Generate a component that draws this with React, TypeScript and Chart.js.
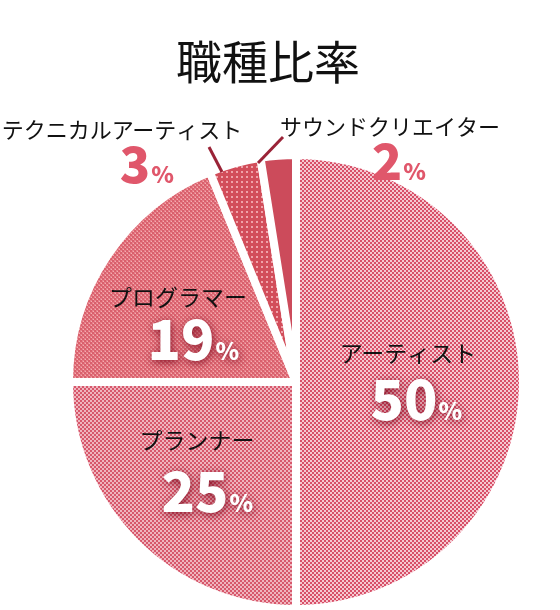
import React, { useEffect, useRef } from "react";
import { Chart, registerables } from "chart.js";

Chart.register(...registerables);

const TITLE = "職種比率";
const categories = ["アーティスト", "プランナー", "プログラマー", "テクニカルアーティスト", "サウンドクリエイター"];
const shares = [50, 25, 18.8, 3.7, 2.5];
const percentLabels = ["50", "25", "19", "3", "2"];

const JP = '"Noto Sans CJK JP", "Noto Sans", sans-serif';

function makeTile(size: number, paint: (g: CanvasRenderingContext2D) => void) {
  const c = document.createElement("canvas");
  c.width = size;
  c.height = size;
  const g = c.getContext("2d") as CanvasRenderingContext2D;
  paint(g);
  return c;
}

function makePatterns(ctx: CanvasRenderingContext2D) {
  const checker = (a: string, b: string) =>
    makeTile(4, (g) => {
      g.fillStyle = b;
      g.fillRect(0, 0, 4, 4);
      g.fillStyle = a;
      g.fillRect(0, 0, 2, 2);
      g.fillRect(2, 2, 2, 2);
    });
  const weave = makeTile(4, (g) => {
    g.fillStyle = "#e7808a";
    g.fillRect(0, 0, 4, 4);
    g.fillStyle = "#d9606c";
    g.fillRect(0, 0, 2, 2);
    g.fillRect(2, 2, 2, 2);
    g.fillStyle = "#f3aeb0";
    g.fillRect(1, 3, 1, 1);
    g.fillRect(3, 1, 1, 1);
  });
  const dots = makeTile(5, (g) => {
    g.fillStyle = "#d24d5a";
    g.fillRect(0, 0, 5, 5);
    g.fillStyle = "#f0a2a9";
    g.fillRect(1, 1, 2, 2);
  });
  return [
    ctx.createPattern(checker("#d84f68", "#f5c9d1"), "repeat"),
    ctx.createPattern(checker("#d7576b", "#efb5be"), "repeat"),
    ctx.createPattern(weave, "repeat"),
    ctx.createPattern(dots, "repeat"),
    "#cc4b5b",
  ];
}

// label placement, offsets from the pie centre
const inside = [
  { name: [112, -29], num: [108, 38] },
  { name: [-99, 58], num: [-101, 130] },
  { name: [-118, -85], num: [-115, -22] },
];
const outside = [
  { name: [-174, -252], num: [-161, -199], line: [[-74, -210], [-87, -235]] },
  { name: [94, -255], num: [91, -202], line: [[-38, -219], [-13, -245]] },
];

function drawValue(
  ctx: CanvasRenderingContext2D,
  x: number,
  baseline: number,
  text: string,
  big: number,
  small: number
) {
  ctx.textAlign = "center";
  ctx.textBaseline = "alphabetic";
  ctx.font = `900 ${big}px ${JP}`;
  const w = ctx.measureText(text).width;
  ctx.fillText(text, x, baseline);
  ctx.textAlign = "left";
  ctx.font = `900 ${small}px ${JP}`;
  ctx.fillText("%", x + w / 2 + 1, baseline);
}

const labelPlugin = {
  id: "jobLabels",
  afterDatasetsDraw(chart: any) {
    const ctx: CanvasRenderingContext2D = chart.ctx;
    const arcs = chart.getDatasetMeta(0).data;
    if (!arcs.length) return;
    const cx = arcs[0].x;
    const cy = arcs[0].y;
    ctx.save();

    // title
    ctx.fillStyle = "#111";
    ctx.font = `400 46px ${JP}`;
    ctx.textAlign = "center";
    ctx.textBaseline = "middle";
    ctx.fillText(TITLE, 268, 62);

    // inside labels
    inside.forEach((p, i) => {
      ctx.shadowColor = "transparent";
      ctx.fillStyle = "#111";
      ctx.font = `23px ${JP}`;
      ctx.textAlign = "center";
      ctx.textBaseline = "middle";
      ctx.fillText(categories[i], cx + p.name[0], cy + p.name[1]);
      ctx.save();
      ctx.fillStyle = "#ffffff";
      ctx.shadowColor = "rgba(125,10,30,0.9)";
      ctx.shadowBlur = 8;
      ctx.shadowOffsetX = 1;
      ctx.shadowOffsetY = 2;
      drawValue(ctx, cx + p.num[0], cy + p.num[1], percentLabels[i], 55, 24);
      ctx.restore();
    });

    // outside labels with leader lines
    outside.forEach((p, k) => {
      const i = k + 3;
      ctx.strokeStyle = "#9a2337";
      ctx.lineWidth = 3;
      ctx.beginPath();
      ctx.moveTo(cx + p.line[0][0], cy + p.line[0][1]);
      ctx.lineTo(cx + p.line[1][0], cy + p.line[1][1]);
      ctx.stroke();
      ctx.fillStyle = "#111";
      ctx.font = `22px ${JP}`;
      ctx.textAlign = "center";
      ctx.textBaseline = "middle";
      ctx.fillText(categories[i], cx + p.name[0], cy + p.name[1]);
      ctx.fillStyle = "#e0576b";
      drawValue(ctx, cx + p.num[0], cy + p.num[1], percentLabels[i], 50, 23);
    });
    ctx.restore();
  },
};

export default function App() {
  const ref = useRef<HTMLCanvasElement | null>(null);
  useEffect(() => {
    const canvas = ref.current;
    if (!canvas) return;
    const ctx = canvas.getContext("2d") as CanvasRenderingContext2D;
    const chart = new Chart(canvas, {
      type: "pie",
      data: {
        labels: categories,
        datasets: [
          {
            data: shares,
            backgroundColor: makePatterns(ctx) as any,
            borderColor: "#ffffff",
            borderWidth: 8,
            hoverOffset: 0,
            radius: 227,
          } as any,
        ],
      },
      options: {
        responsive: false,
        animation: false,
        events: [],
        layout: { padding: { left: 32, right: 0, top: 154, bottom: 0 } },
        plugins: {
          legend: { display: false },
          tooltip: { enabled: false },
          title: { display: false },
        },
      } as any,
      plugins: [labelPlugin],
    });
    return () => chart.destroy();
  }, []);
  return (
    <div style={{ position: "absolute", left: 0, top: 0, width: 560, height: 610, background: "#fff" }}>
      <canvas ref={ref} width={560} height={610} />
    </div>
  );
}
